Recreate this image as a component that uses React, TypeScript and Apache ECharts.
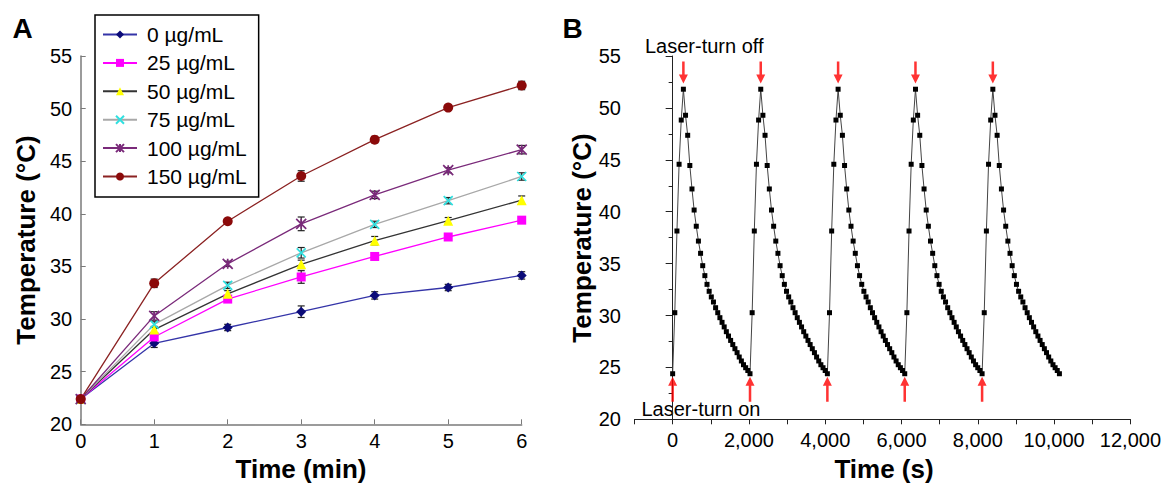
import React, { useEffect, useRef } from 'react';
import * as echarts from 'echarts';

// ---------- Panel A data ----------
const minutes = [0, 1, 2, 3, 4, 5, 6];
const concLabels = ['0 µg/mL', '25 µg/mL', '50 µg/mL', '75 µg/mL', '100 µg/mL', '150 µg/mL'];
const temp0 = [22.4, 27.7, 29.2, 30.7, 32.25, 33.0, 34.15];
const temp25 = [22.4, 28.3, 31.9, 34.0, 35.95, 37.8, 39.4];
const temp50 = [22.4, 29.0, 32.4, 35.2, 37.45, 39.35, 41.3];
const temp75 = [22.4, 29.5, 33.2, 36.3, 39.0, 41.25, 43.55];
const temp100 = [22.4, 30.3, 35.25, 39.05, 41.8, 44.15, 46.1];
const temp150 = [22.4, 33.4, 39.3, 43.6, 47.05, 50.1, 52.2];
const err0 = [0.2, 0.4, 0.3, 0.55, 0.35, 0.3, 0.35];
const err25 = [0.2, 0.3, 0.3, 0.6, 0.3, 0.3, 0.3];
const err50 = [0.2, 0.3, 0.3, 0.4, 0.4, 0.3, 0.4];
const err75 = [0.2, 0.3, 0.3, 0.5, 0.3, 0.3, 0.35];
const err100 = [0.2, 0.4, 0.25, 0.65, 0.35, 0.25, 0.4];
const err150 = [0.2, 0.4, 0.25, 0.5, 0.3, 0.25, 0.4];

// ---------- Panel B data ----------
const cycleStartTimes = [0, 2028, 4056, 6084, 8112];
const sampleInterval = 56.3;
const peakIndex = 5;
const cycleTemps = [
  24.39, 30.27, 38.14, 44.57, 48.83, 51.8, 49.29, 47.36, 44.45, 42.19, 40.16, 38.6,
  37.17, 35.99, 34.8, 33.84, 33.0, 32.33, 31.79, 31.3, 30.75, 30.27, 29.79, 29.34,
  28.9, 28.44, 28.02, 27.6, 27.2, 26.8, 26.42, 26.0, 25.62, 25.26, 24.97, 24.7, 24.39,
];
const arrowOnTemp = 22.9;
const arrowOffTemp = 53.4;

const FONT = "'Liberation Sans', Arial, sans-serif";

const seriesA = [
  { name: concLabels[0], values: temp0, errs: err0, line: '#3434a8', mark: '#0b0b78', symbol: 'diamond', size: 10, stroke: false },
  { name: concLabels[1], values: temp25, errs: err25, line: '#ff00ff', mark: '#ff00ff', symbol: 'rect', size: 9, stroke: false },
  { name: concLabels[2], values: temp50, errs: err50, line: '#333333', mark: '#ffff00', symbol: 'triangle', size: 10, stroke: false },
  { name: concLabels[3], values: temp75, errs: err75, line: '#a8a8a8', mark: '#30e0e0', symbol: 'path://M0,0L10,10M10,0L0,10', size: 9, stroke: true },
  { name: concLabels[4], values: temp100, errs: err100, line: '#7a2a7a', mark: '#7a2a7a', symbol: 'path://M0,0L10,10M10,0L0,10M5,0L5,10', size: 10, stroke: true },
  { name: concLabels[5], values: temp150, errs: err150, line: '#8b2222', mark: '#8b0a0a', symbol: 'circle', size: 10, stroke: false },
];

function buildOption() {
  const lineSeries = seriesA.map((s) => ({
    type: 'line',
    name: s.name,
    xAxisIndex: 0,
    yAxisIndex: 0,
    data: minutes.map((m, i) => [m, s.values[i]]),
    symbol: s.symbol,
    symbolSize: s.size,
    showAllSymbol: true,
    lineStyle: { color: s.line, width: 1.3 },
    itemStyle: s.stroke
      ? { color: s.mark, borderColor: s.mark, borderWidth: 1.7 }
      : { color: s.mark, borderWidth: 0 },
    z: 3,
  }));

  const errData: number[][] = [];
  seriesA.forEach((s) => {
    minutes.forEach((m, i) => {
      errData.push([m, s.values[i] - s.errs[i], s.values[i] + s.errs[i]]);
    });
  });

  const errSeries = {
    type: 'custom',
    name: 'err',
    xAxisIndex: 0,
    yAxisIndex: 0,
    data: errData,
    encode: { x: 0, y: [1, 2] },
    z: 2,
    renderItem: (params: any, api: any) => {
      const x = api.value(0);
      const p1 = api.coord([x, api.value(1)]);
      const p2 = api.coord([x, api.value(2)]);
      const w = 3.5;
      const st = { stroke: '#222', lineWidth: 1.2 };
      return {
        type: 'group',
        children: [
          { type: 'line', shape: { x1: p1[0], y1: p1[1], x2: p2[0], y2: p2[1] }, style: st },
          { type: 'line', shape: { x1: p1[0] - w, y1: p1[1], x2: p1[0] + w, y2: p1[1] }, style: st },
          { type: 'line', shape: { x1: p2[0] - w, y1: p2[1], x2: p2[0] + w, y2: p2[1] }, style: st },
        ],
      };
    },
  };

  const cycleData: number[][] = [];
  cycleStartTimes.forEach((start, c) => {
    cycleTemps.forEach((t, i) => {
      if (i === cycleTemps.length - 1 && c < cycleStartTimes.length - 1) return;
      cycleData.push([start + i * sampleInterval, t]);
    });
  });

  const onArrows = cycleStartTimes.map((s) => [s, arrowOnTemp]);
  const offArrows = cycleStartTimes.map((s) => [s + peakIndex * sampleInterval, arrowOffTemp]);

  const axisFont = { fontSize: 20, fontFamily: FONT, color: '#000' };

  return {
    animation: false,
    backgroundColor: '#fff',
    textStyle: { fontFamily: FONT },
    grid: [
      { left: 80.7, top: 56, width: 441, height: 368.3 },
      { left: 634.5, top: 56, width: 498.5, height: 363.3 },
    ],
    legend: {
      data: concLabels,
      orient: 'vertical',
      left: 95,
      top: 15,
      padding: [9, 12, 10, 7],
      itemGap: 7.4,
      itemWidth: 34,
      itemHeight: 10,
      borderColor: '#000',
      borderWidth: 1.5,
      backgroundColor: '#fff',
      textStyle: { fontSize: 21, fontFamily: FONT, color: '#000', padding: [0, 0, 0, 5], lineHeight: 20 },
    },
    xAxis: [
      {
        type: 'value',
        gridIndex: 0,
        min: 0,
        max: 6,
        interval: 1,
        axisLine: { lineStyle: { color: '#7a7a7a', width: 1.5 } },
        axisTick: { inside: true, length: 5, lineStyle: { color: '#7a7a7a' } },
        axisLabel: { ...axisFont, margin: 7 },
        splitLine: { show: false },
      },
      {
        type: 'value',
        gridIndex: 1,
        min: -1000,
        max: 12000,
        interval: 1000,
        axisLine: { lineStyle: { color: '#222', width: 1 } },
        axisTick: { inside: false, length: 5, lineStyle: { color: '#222' } },
        axisLabel: {
          ...axisFont,
          margin: 11,
          formatter: (v: number) => (v < 0 || v % 2000 !== 0 ? '' : v.toLocaleString('en-US')),
        },
        splitLine: { show: false },
      },
    ],
    yAxis: [
      {
        type: 'value',
        gridIndex: 0,
        min: 20,
        max: 55,
        interval: 5,
        axisLine: { show: true, lineStyle: { color: '#7a7a7a', width: 1.5 } },
        axisTick: { show: true, inside: true, length: 5, lineStyle: { color: '#7a7a7a' } },
        axisLabel: { ...axisFont, margin: 8.5 },
        splitLine: { show: false },
      },
      {
        type: 'value',
        gridIndex: 1,
        min: 20,
        max: 55,
        interval: 5,
        axisLine: { show: true, lineStyle: { color: '#222', width: 1 } },
        axisTick: { show: true, inside: false, length: 7, lineStyle: { color: '#222' } },
        minorTick: { show: true, splitNumber: 2, length: 4, lineStyle: { color: '#222' } },
        axisLabel: { ...axisFont, margin: 13.5 },
        splitLine: { show: false },
        minorSplitLine: { show: false },
      },
    ],
    series: [
      errSeries,
      ...lineSeries,
      {
        type: 'line',
        name: 'cycles',
        xAxisIndex: 1,
        yAxisIndex: 1,
        data: cycleData,
        symbol: 'rect',
        symbolSize: 5,
        showAllSymbol: true,
        lineStyle: { color: '#444', width: 1 },
        itemStyle: { color: '#000', borderWidth: 0 },
        z: 3,
      },
      {
        type: 'scatter',
        name: 'on',
        xAxisIndex: 1,
        yAxisIndex: 1,
        data: onArrows,
        symbol: 'path://M5,0L10,9L6.4,9L6.4,25L3.6,25L3.6,9L0,9Z',
        symbolSize: [9, 25],
        itemStyle: { color: '#ff0000' },
        z: 4,
      },
      {
        type: 'scatter',
        name: 'off',
        xAxisIndex: 1,
        yAxisIndex: 1,
        data: offArrows,
        symbol: 'path://M3.6,0L6.4,0L6.4,13L10,13L5,22L0,13L3.6,13Z',
        symbolSize: [9, 22],
        itemStyle: { color: '#ff0000' },
        z: 4,
      },
    ],
    graphic: [
      { type: 'text', x: 22.5, y: 28.5, style: { text: 'A', font: `bold 28px ${FONT}`, fill: '#000', textAlign: 'center', textVerticalAlign: 'middle' } },
      { type: 'text', x: 572.7, y: 28.5, style: { text: 'B', font: `bold 28px ${FONT}`, fill: '#000', textAlign: 'center', textVerticalAlign: 'middle' } },
      { type: 'text', x: 26, y: 240, rotation: Math.PI / 2, style: { text: 'Temperature (°C)', font: `bold 26px ${FONT}`, fill: '#000', textAlign: 'center', textVerticalAlign: 'middle' } },
      { type: 'text', x: 582, y: 238, rotation: Math.PI / 2, style: { text: 'Temperature (°C)', font: `bold 26px ${FONT}`, fill: '#000', textAlign: 'center', textVerticalAlign: 'middle' } },
      { type: 'text', x: 301, y: 469, style: { text: 'Time (min)', font: `bold 26px ${FONT}`, fill: '#000', textAlign: 'center', textVerticalAlign: 'middle' } },
      { type: 'text', x: 884, y: 469, style: { text: 'Time (s)', font: `bold 26px ${FONT}`, fill: '#000', textAlign: 'center', textVerticalAlign: 'middle' } },
      { type: 'text', x: 645, y: 46, style: { text: 'Laser-turn off', font: `20px ${FONT}`, fill: '#000', textAlign: 'left', textVerticalAlign: 'middle' } },
      { type: 'text', x: 641.5, y: 409, style: { text: 'Laser-turn on', font: `20px ${FONT}`, fill: '#000', textAlign: 'left', textVerticalAlign: 'middle' } },
    ],
  };
}

export default function App() {
  const ref = useRef<HTMLDivElement>(null);
  useEffect(() => {
    if (!ref.current) return;
    const chart = echarts.init(ref.current, undefined, { renderer: 'svg' });
    chart.setOption(buildOption() as any);
    return () => chart.dispose();
  }, []);
  return (
    <div
      ref={ref}
      style={{ position: 'absolute', left: 0, top: 0, width: 1164, height: 489, background: '#fff' }}
    />
  );
}
